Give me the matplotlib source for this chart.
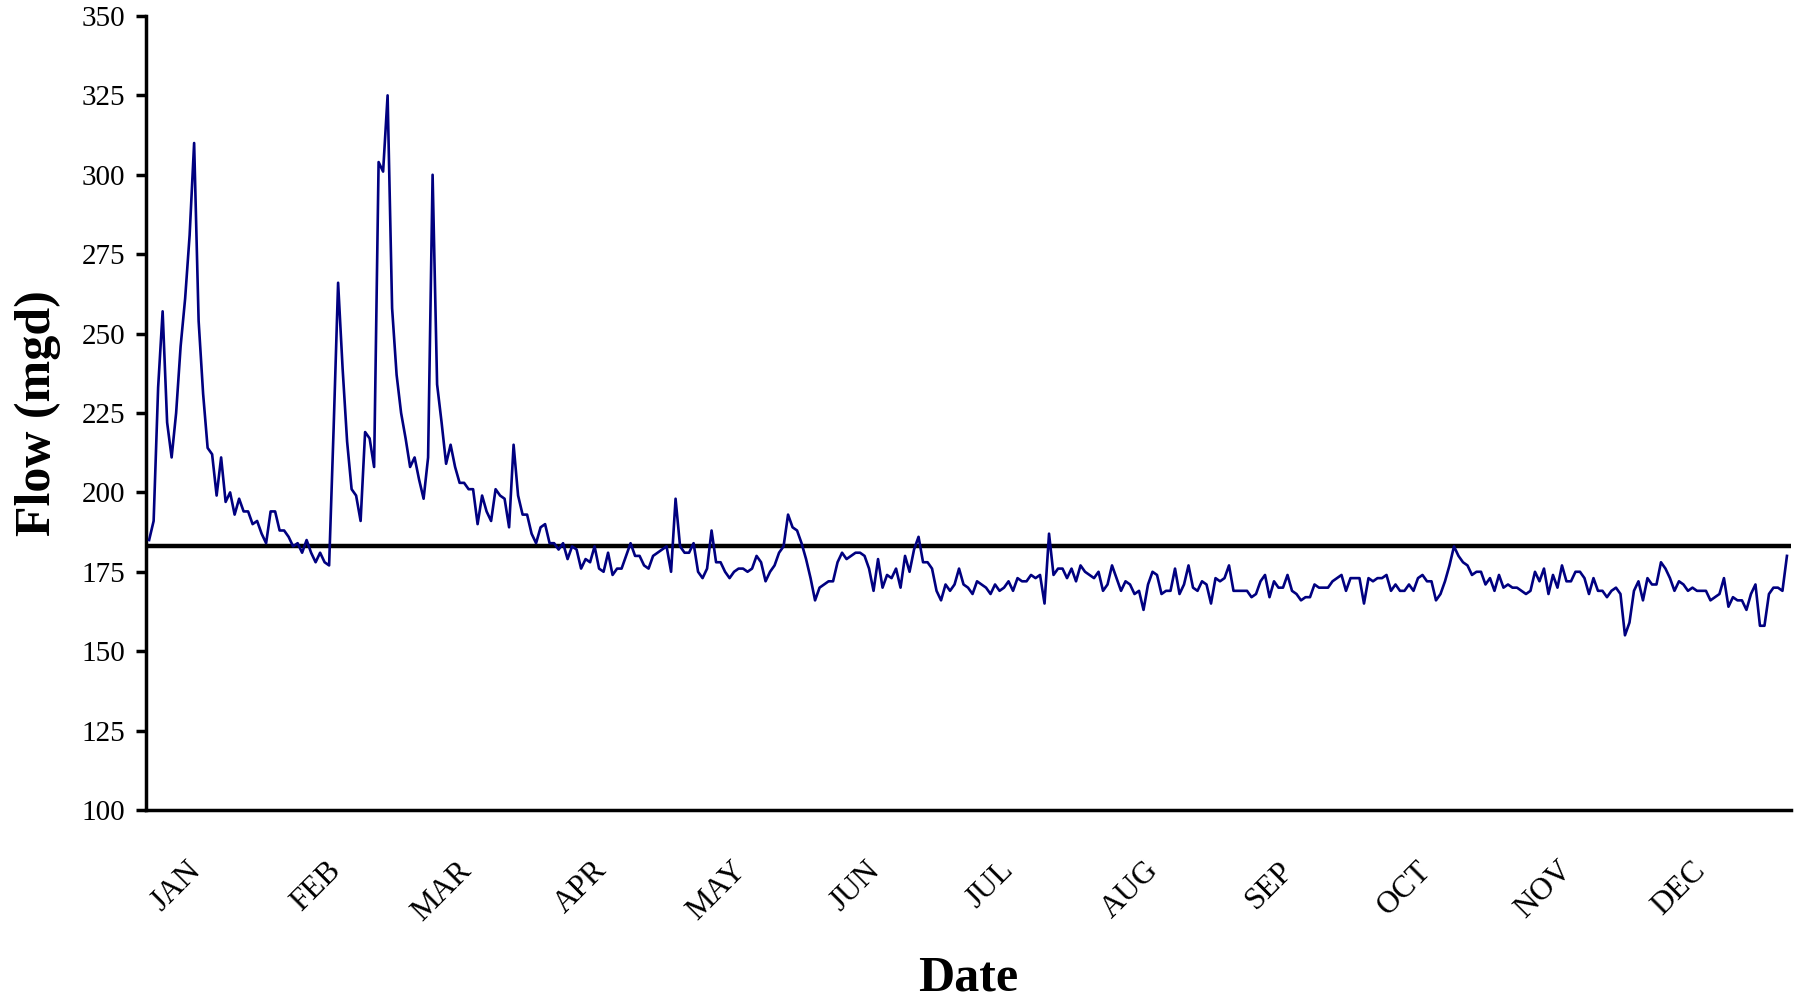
import numpy as np
import matplotlib
matplotlib.use("Agg")
import matplotlib.pyplot as plt

# daily flow (mgd), one list per month
jan = [185, 191, 233, 257, 222, 211, 225, 246, 261, 281, 310, 254, 231, 214, 212, 199,
       211, 197, 200, 193, 198, 194, 194, 190, 191, 187, 184, 194, 194, 188, 188]
feb = [186, 183, 184, 181, 185, 181, 178, 181, 178, 177, 220, 266, 239, 216, 201, 199,
       191, 219, 217, 208, 304, 301, 325, 258, 237, 225, 217, 208]
mar = [211, 204, 198, 211, 300, 234, 222, 209, 215, 208, 203, 203, 201, 201, 190, 199,
       194, 191, 201, 199, 198, 189, 215, 199, 193, 193, 187, 184, 189, 190, 184]
apr = [184, 182, 184, 179, 183, 182, 176, 179, 178, 183, 176, 175, 181, 174, 176, 176,
       180, 184, 180, 180, 177, 176, 180, 181, 182, 183, 175, 198, 183, 181]
may = [181, 184, 175, 173, 176, 188, 178, 178, 175, 173, 175, 176, 176, 175, 176, 180,
       178, 172, 175, 177, 181, 183, 193, 189, 188, 184, 179, 173, 166, 170, 171]
jun = [172, 172, 178, 181, 179, 180, 181, 181, 180, 176, 169, 179, 170, 174, 173, 176,
       170, 180, 175, 182, 186, 178, 178, 176, 169, 166, 171, 169, 171, 176]
jul = [171, 170, 168, 172, 171, 170, 168, 171, 169, 170, 172, 169, 173, 172, 172, 174,
       173, 174, 165, 187, 174, 176, 176, 173, 176, 172, 177, 175, 174, 173, 175]
aug = [169, 171, 177, 173, 169, 172, 171, 168, 169, 163, 171, 175, 174, 168, 169, 169,
       176, 168, 171, 177, 170, 169, 172, 171, 165, 173, 172, 173, 177, 169, 169]
sep = [169, 169, 167, 168, 172, 174, 167, 172, 170, 170, 174, 169, 168, 166, 167, 167,
       171, 170, 170, 170, 172, 173, 174, 169, 173, 173, 173, 165, 173, 172]
oct_ = [173, 173, 174, 169, 171, 169, 169, 171, 169, 173, 174, 172, 172, 166, 168, 172,
        177, 183, 180, 178, 177, 174, 175, 175, 171, 173, 169, 174, 170, 171, 170]
nov = [170, 169, 168, 169, 175, 172, 176, 168, 174, 170, 177, 172, 172, 175, 175, 173,
       168, 173, 169, 169, 167, 169, 170, 168, 155, 159, 169, 172, 166, 173]
dec = [171, 171, 178, 176, 173, 169, 172, 171, 169, 170, 169, 169, 169, 166, 167, 168,
       173, 164, 167, 166, 166, 163, 168, 171, 158, 158, 168, 170, 170, 169, 180]

months = ["JAN", "FEB", "MAR", "APR", "MAY", "JUN",
          "JUL", "AUG", "SEP", "OCT", "NOV", "DEC"]
threshold = 183

flow = np.array(jan + feb + mar + apr + may + jun + jul + aug + sep + oct_ + nov + dec)
days = np.arange(len(flow))
month_lens = [len(m) for m in (jan, feb, mar, apr, may, jun, jul, aug, sep, oct_, nov, dec)]
month_start = np.concatenate([[0], np.cumsum(month_lens)[:-1]])

plt.rcParams['font.family'] = ['Liberation Serif', 'DejaVu Serif']

fig = plt.figure(figsize=(18, 9.98), dpi=100)
ax = fig.add_axes([0.0811, 0.1884, 0.9139, 0.7956])

ax.plot(days, flow, color='#000080', lw=1.9, zorder=3)
ax.axhline(threshold, color='black', lw=3.2, zorder=2)

ax.set_xlim(-0.7, 364.9)
ax.set_ylim(100, 350)
ax.set_yticks(np.arange(100, 351, 25))
ax.tick_params(axis='y', labelsize=21, length=7, width=2.5, pad=8, direction='out')

ax.set_xticks(month_start + 6)
ax.set_xticklabels(months, rotation=45, ha='center', fontsize=22.5)
ax.tick_params(axis='x', length=0, pad=33)

for s in ['top', 'right']:
    ax.spines[s].set_visible(False)
for s in ['left', 'bottom']:
    ax.spines[s].set_linewidth(2.5)

ax.set_ylabel('Flow (mgd)', fontsize=36, fontweight='bold', va='center')
ax.yaxis.set_label_coords(-0.066, 0.5)
ax.set_xlabel('Date', fontsize=36, fontweight='bold', va='center')
ax.xaxis.set_label_coords(0.5, -0.212)

fig.savefig('out.png', dpi=100)
